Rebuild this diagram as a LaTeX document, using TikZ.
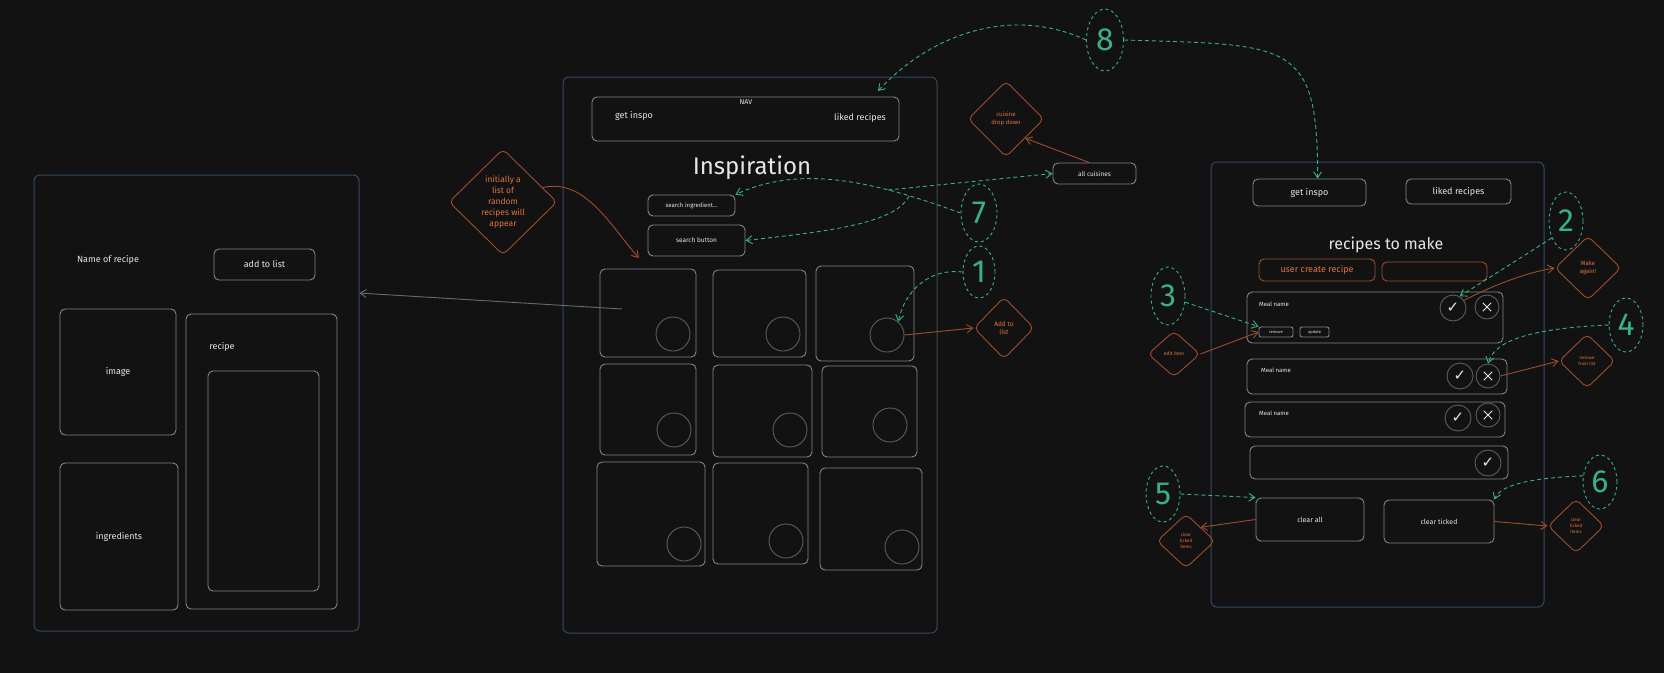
\documentclass[tikz,border=0pt]{standalone}
\usepackage{fontspec}
\setmainfont{Fira Sans}
\newfontfamily\symfont{DejaVu Sans}
\usepackage{tikz}
\usetikzlibrary{shapes.geometric,arrows.meta}
\definecolor{bgc}{HTML}{121212}
\definecolor{framec}{HTML}{34495F}
\definecolor{boxc}{HTML}{858585}
\definecolor{dotc}{HTML}{5E5E5E}
\definecolor{txt}{HTML}{E6E6E6}
\definecolor{orline}{HTML}{9C4E2C}
\definecolor{ortxt}{HTML}{E2733F}
\definecolor{tealc}{HTML}{3AB08A}
\newcommand\fsz[2]{\fontsize{#1}{#2}\selectfont}

\begin{document}
\begin{tikzpicture}[x=1pt,y=-1pt,
  frame/.style={draw=framec,rounded corners=6,line width=1},
  box/.style={draw=boxc,rounded corners=5,line width=0.9,text=txt,inner sep=0,font=\fsz{9}{11}},
  obox/.style={box,draw=orline,text=ortxt},
  lbl/.style={text=txt,inner sep=0,font=\fsz{9}{11}},
  dot/.style={circle,draw=dotc,line width=0.9,minimum size=34,inner sep=0},
  tick/.style={circle,draw=dotc,line width=0.9,minimum size=26,inner sep=0,text=txt,font=\symfont\fsz{15}{15}},
  cross/.style={circle,draw=dotc,line width=0.9,minimum size=24,inner sep=0},
  xline/.style={draw=txt,line width=0.9,shorten >=6.5pt,shorten <=6.5pt},
  note/.style={diamond,draw=orline,rounded corners=5,line width=0.9,text=ortxt,inner sep=0,align=center},
  num/.style={ellipse,draw=tealc,dashed,dash pattern=on 3pt off 3pt,line width=0.9,text=tealc,inner sep=0,font=\fsz{32}{32}},
  hint/.style={draw=tealc,line width=0.9,dash pattern=on 4pt off 3pt,-{Straight Barb[length=6pt,width=8pt]}},
  link/.style={draw=orline,line width=0.9,-{Straight Barb[length=6pt,width=8pt]}},
  back/.style={draw=framec!80!white,line width=0.9,-{Straight Barb[length=6pt,width=8pt]}}]
\fill[bgc] (0,0) rectangle (1664,673);

\node[frame,minimum width=325,minimum height=456] (detail) at (196.5,403) {};
\node[lbl] (recipeName) at (108,260) {Name of recipe};
\node[box,minimum width=101,minimum height=31] (addBtn) at (264.5,264.5) {add to list};
\node[box,minimum width=116,minimum height=126] (imageBox) at (118,372) {image};
\node[box,minimum width=118,minimum height=147] (ingBox) at (119,536.5) {ingredients};
\node[box,minimum width=151,minimum height=295] (recipeBox) at (261.5,461.5) {};
\node[lbl] (recipeLbl) at (222,347) {recipe};
\node[box,minimum width=111,minimum height=220] (recipeText) at (263.5,481) {};

\node[frame,minimum width=374,minimum height=556] (inspo) at (750,355) {};
\node[box,minimum width=307,minimum height=44] (nav) at (745.5,119) {};
\node[lbl,font=\fsz{7}{8}] (navLbl) at (746,102) {NAV};
\node[lbl] (navInspo) at (634,116) {get inspo};
\node[lbl] (navLiked) at (860,118) {liked recipes};
\node[lbl,font=\fsz{24}{28}] (title) at (752,168) {Inspiration};
\node[box,minimum width=87,minimum height=21,font=\fsz{6}{7}] (searchIng) at (691.5,205.5) {search ingredient...};
\node[box,minimum width=97,minimum height=31,font=\fsz{6.5}{8}] (searchBtn) at (696.5,240.5) {search button};

\node[box,minimum width=96,minimum height=88] (cell1) at (648,313) {};
\node[box,minimum width=93,minimum height=87] (cell2) at (759.5,313.5) {};
\node[box,minimum width=98,minimum height=95] (cell3) at (865,313.5) {};
\node[box,minimum width=96,minimum height=91] (cell4) at (648,409.5) {};
\node[box,minimum width=99,minimum height=92] (cell5) at (762.5,411) {};
\node[box,minimum width=95,minimum height=91] (cell6) at (869.5,411.5) {};
\node[box,minimum width=108,minimum height=104] (cell7) at (651,514) {};
\node[box,minimum width=95,minimum height=101] (cell8) at (760.5,513.5) {};
\node[box,minimum width=102,minimum height=102] (cell9) at (871,519) {};
\node[dot] (pic1) at (673,334) {};
\node[dot] (pic2) at (783,334) {};
\node[dot] (pic3) at (887,335) {};
\node[dot] (pic4) at (674,430) {};
\node[dot] (pic5) at (790,430) {};
\node[dot] (pic6) at (890,425) {};
\node[dot] (pic7) at (684,544) {};
\node[dot] (pic8) at (786,541) {};
\node[dot] (pic9) at (902,547) {};

\node[note,minimum width=108,minimum height=106,font=\fsz{8.5}{11}] (initNote) at (503,202) {initially a\\list of\\random\\recipes will\\appear};
\node[note,minimum width=76,minimum height=76,font=\fsz{6}{8}] (cuisineNote) at (1006,119) {cuisine\\drop down};
\node[box,minimum width=83,minimum height=21,font=\fsz{6.5}{8}] (cuisines) at (1094.5,173.5) {all cuisines};
\node[note,minimum width=60,minimum height=62,font=\fsz{6.5}{8}] (addNote) at (1004,328) {Add to\\list};
\node[num,minimum width=37,minimum height=62] (n8) at (1105,40) {8};
\node[num,minimum width=36,minimum height=58] (n7) at (979,213) {7};
\node[num,minimum width=32,minimum height=52] (n1) at (979,272) {1};

\node[frame,minimum width=333,minimum height=445] (list) at (1377.5,384.5) {};
\node[box,minimum width=113,minimum height=27] (listInspo) at (1309.5,192.5) {get inspo};
\node[box,minimum width=105,minimum height=25] (listLiked) at (1458.5,191.5) {liked recipes};
\node[lbl,font=\fsz{16}{19}] (listTitle) at (1386,245) {recipes to make};
\node[obox,minimum width=116,minimum height=22] (createBtn) at (1317,270) {user create recipe};
\node[obox,minimum width=105,minimum height=19] (blankBtn) at (1434.5,271.5) {};

\node[box,minimum width=256,minimum height=51] (row1) at (1375,317.5) {};
\node[lbl,anchor=west,font=\fsz{6}{7}] (meal1) at (1259,304) {Meal name};
\node[box,minimum width=34,minimum height=10,rounded corners=2,font=\fsz{4}{5}] (removeBtn) at (1276,332) {remove};
\node[box,minimum width=29,minimum height=10,rounded corners=2,font=\fsz{4}{5}] (updateBtn) at (1314.5,332) {update};
\node[tick] (tick1) at (1453,308) {✓};
\node[cross] (cross1) at (1487,307) {};
\node[box,minimum width=260,minimum height=35] (row2) at (1377,376.5) {};
\node[lbl,anchor=west,font=\fsz{6}{7}] (meal2) at (1261,370) {Meal name};
\node[tick] (tick2) at (1460,376) {✓};
\node[cross] (cross2) at (1488,376) {};
\node[box,minimum width=260,minimum height=35] (row3) at (1375,419.5) {};
\node[lbl,anchor=west,font=\fsz{6}{7}] (meal3) at (1259,413) {Meal name};
\node[tick] (tick3) at (1458,418) {✓};
\node[cross] (cross3) at (1488,415) {};
\node[box,minimum width=258,minimum height=33] (row4) at (1379,462.5) {};
\node[tick] (tick4) at (1488,463) {✓};
\draw[xline] (cross1.45) -- (cross1.225);
\draw[xline] (cross1.135) -- (cross1.315);
\draw[xline] (cross2.45) -- (cross2.225);
\draw[xline] (cross2.135) -- (cross2.315);
\draw[xline] (cross3.45) -- (cross3.225);
\draw[xline] (cross3.135) -- (cross3.315);
\node[box,minimum width=108,minimum height=43,font=\fsz{7}{8}] (clearAll) at (1310,519.5) {clear all};
\node[box,minimum width=110,minimum height=43,font=\fsz{7}{8}] (clearTicked) at (1439,521.5) {clear ticked};

\node[note,minimum width=52,minimum height=46,font=\fsz{5}{6}] (editNote) at (1174,354) {edit item};
\node[note,minimum width=66,minimum height=64,font=\fsz{6}{8}] (againNote) at (1588,268) {Make\\again!};
\node[note,minimum width=56,minimum height=54,font=\fsz{4.5}{6}] (dropNote) at (1587,361) {remove\\from list};
\node[note,minimum width=58,minimum height=54,font=\fsz{4.5}{6}] (clearNoteL) at (1186,541) {clear\\ticked\\items};
\node[note,minimum width=56,minimum height=54,font=\fsz{4.5}{6}] (clearNoteR) at (1576,526) {clear\\ticked\\items};
\node[num,minimum width=34,minimum height=58] (n2) at (1566,221) {2};
\node[num,minimum width=34,minimum height=58] (n3) at (1168,296) {3};
\node[num,minimum width=34,minimum height=54] (n4) at (1626,325) {4};
\node[num,minimum width=34,minimum height=56] (n5) at (1163,494) {5};
\node[num,minimum width=34,minimum height=54] (n6) at (1600,482) {6};

\coordinate (grab) at (622,309);
\coordinate (navMark) at (878,91);
\coordinate (fork7) at (909,196);
\coordinate (cross7) at (888,190);

\draw[back] (grab) -- (detail.34);
\draw[link,shorten >=14pt] (initNote.20) .. controls (585,178) and (610,225) .. (cell1.north);
\draw[link] (cuisines.115) -- (cuisineNote.south east);
\draw[link] (pic3.east) -- (addNote.west);
\draw[link] (editNote.east) -- (removeBtn.west);
\draw[link] (tick1.35) .. controls (1500,282) and (1530,272) .. (againNote.west);
\draw[link] (cross2.east) -- (dropNote.west);
\draw[link] (clearAll.west) -- (clearNoteL.north east);
\draw[link] (clearTicked.east) -- (clearNoteR.west);

\draw[hint] (n8.west) .. controls (1010,5) and (930,35) .. (navMark);
\draw[hint] (n8.east) .. controls (1290,45) and (1318,40) .. (listInspo.60);
\draw[hint] (n7.west) .. controls (870,180) and (800,165) .. (searchIng.north east);
\draw[hint] (fork7) .. controls (895,225) and (820,232) .. (searchBtn.east);
\draw[hint] (cross7) -- (cuisines.west);
\draw[hint] (n1.west) .. controls (930,268) and (905,290) .. (pic3.50);
\draw[hint] (n2.230) -- (tick1.60);
\draw[hint] (n3.340) -- (removeBtn.north west);
\draw[hint] (n4.west) .. controls (1540,328) and (1495,338) .. (cross2.north);
\draw[hint] (n5.east) -- (clearAll.north west);
\draw[hint] (n6.160) .. controls (1530,478) and (1500,485) .. (clearTicked.north east);
\end{tikzpicture}
\end{document}
